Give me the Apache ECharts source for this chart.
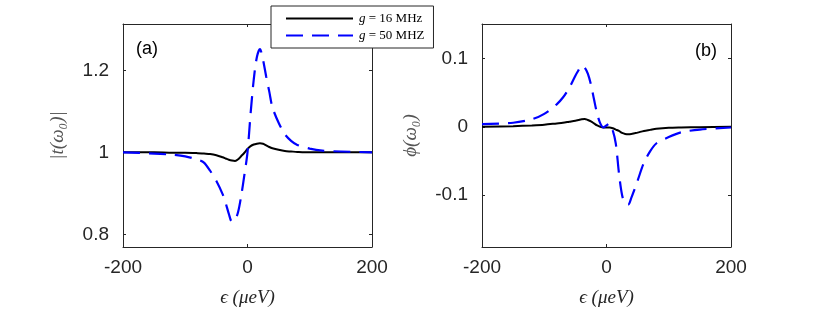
<!DOCTYPE html>
<html>
<head>
<meta charset="utf-8">
<script src="https://cdn.jsdelivr.net/npm/echarts@6/dist/echarts.min.js"></script>
<style>
html,body{margin:0;padding:0;background:#fff;}
#chart{width:817px;height:316px;}
</style>
</head>
<body>
<div id="chart"></div>
<script>
// ---- data ----
const epsA = [-200,-150,-120,-100,-80,-70,-60,-50,-40,-35,-30,-25,-20,-15,-10,-5,0,5,10,15,20,25,30,35,40,50,60,70,80,100,120,150,200];
const t16 = [1.000,1.000,0.999,0.999,0.998,0.997,0.996,0.993,0.988,0.985,0.982,0.980,0.979,0.983,0.991,0.999,1.008,1.015,1.019,1.021,1.022,1.021,1.017,1.013,1.010,1.006,1.003,1.002,1.001,1.000,1.000,1.000,1.000];
const t50 = [1.000,0.997,0.994,0.990,0.982,0.975,0.955,0.930,0.898,0.876,0.850,0.831,0.835,0.855,0.895,0.945,1.000,1.095,1.177,1.232,1.252,1.225,1.185,1.148,1.110,1.072,1.044,1.028,1.018,1.009,1.004,1.002,1.000];

const epsB = [-200,-150,-120,-100,-80,-70,-60,-50,-45,-40,-35,-30,-25,-20,-15,-10,-5,0,5,10,15,20,25,30,35,40,45,50,60,70,80,100,120,150,200];
const phi16 = [0.000,0.001,0.002,0.003,0.005,0.006,0.0075,0.009,0.010,0.011,0.0115,0.010,0.008,0.005,0.002,0.000,-0.001,-0.001,-0.001,-0.002,-0.004,-0.006,-0.009,-0.0105,-0.011,-0.0105,-0.0095,-0.0085,-0.006,-0.0045,-0.003,-0.0015,-0.001,-0.0005,0.000];
const phi50 = [0.004,0.006,0.011,0.019,0.033,0.043,0.057,0.075,0.083,0.090,0.087,0.078,0.062,0.040,0.019,0.005,-0.001,0.002,0.005,-0.005,-0.025,-0.068,-0.100,-0.113,-0.114,-0.104,-0.092,-0.079,-0.053,-0.036,-0.0245,-0.015,-0.008,-0.004,-0.001];

const xTicks = [-200, 0, 200];
const yTicksA = [0.8, 1, 1.2];
const yTicksB = [-0.1, 0, 0.1];
const seriesNames = ['g16', 'g50'];
const legendLabels = {g16: '{i|g} = 16 MHz', g50: '{i|g} = 50 MHZ'};

// ---- chart ----
const AX = '#262626';
const tickFont = {fontFamily: '"Liberation Sans", Arial, sans-serif', fontSize: 19, color: AX};
const zip = (xs, ys) => xs.map((x, i) => [x, ys[i]]);

function xAx(grid, pos, labels, name) {
  return {
    gridIndex: grid, type: 'value', position: pos, min: -200, max: 200,
    axisLine: {show: true, onZero: false, lineStyle: {color: AX, width: 1}},
    axisTick: {show: true, inside: true, length: 3, customValues: xTicks, lineStyle: {color: AX}},
    axisLabel: {show: labels, customValues: xTicks, margin: 11, ...tickFont},
    splitLine: {show: false},
    name: name || '', nameLocation: 'middle', nameGap: 41,
    nameTextStyle: {fontFamily: '"Liberation Serif", "DejaVu Serif", serif', fontStyle: 'italic', fontSize: 19, color: AX}
  };
}
function yAx(grid, pos, labels, min, max, ticks, name, gap) {
  return {
    gridIndex: grid, type: 'value', position: pos, min: min, max: max,
    axisLine: {show: true, onZero: false, lineStyle: {color: AX, width: 1}},
    axisTick: {show: true, inside: true, length: 3, customValues: ticks, lineStyle: {color: AX}},
    axisLabel: {show: labels, customValues: ticks, margin: 14, ...tickFont},
    splitLine: {show: false},
    name: name || '', nameLocation: 'middle', nameRotate: 90, nameGap: gap || 0,
    nameTextStyle: {fontFamily: '"Liberation Serif", "DejaVu Serif", serif', fontStyle: 'italic', fontSize: 19, color: '#555'}
  };
}

const lineBlack = {color: '#000', width: 2, type: 'solid'};
const lineBlue = {color: '#0000ff', width: 2.2, type: [17, 9]};

const option = {
  backgroundColor: '#fff',
  animation: false,
  grid: [
    {left: 123, top: 24, width: 249, height: 223},
    {left: 482, top: 24, width: 249, height: 223}
  ],
  xAxis: [
    xAx(0, 'bottom', true, 'ϵ (μeV)'),
    xAx(0, 'top', false),
    xAx(1, 'bottom', true, 'ϵ (μeV)'),
    xAx(1, 'top', false)
  ],
  yAxis: [
    yAx(0, 'left', true, 0.769, 1.313, yTicksA, '|t(ω₀)|', 56),
    yAx(0, 'right', false, 0.769, 1.313, yTicksA),
    yAx(1, 'left', true, -0.1765, 0.151, yTicksB, 'ϕ(ω₀)', 62),
    yAx(1, 'right', false, -0.1765, 0.151, yTicksB)
  ],
  legend: {
    data: seriesNames,
    orient: 'vertical',
    left: 271, top: 6,
    padding: [6, 9, 6, 14],
    itemGap: 4,
    itemWidth: 67, itemHeight: 12,
    itemStyle: {opacity: 0},
    backgroundColor: '#fff',
    borderColor: AX, borderWidth: 1, borderRadius: 0,
    formatter: n => legendLabels[n],
    textStyle: {
      fontFamily: '"Liberation Serif", "DejaVu Serif", serif', fontSize: 13, color: '#000', padding: [0,0,0,1],
      rich: {i: {fontStyle: 'italic', fontFamily: '"Liberation Serif", "DejaVu Serif", serif', fontSize: 13, color: '#000'}}
    }
  },
  graphic: [
    {type: 'text', left: 136, top: 40, style: {text: '(a)', fontFamily: '"Liberation Sans", Arial, sans-serif', fontSize: 18, fill: '#000'}},
    {type: 'text', left: 695, top: 42, style: {text: '(b)', fontFamily: '"Liberation Sans", Arial, sans-serif', fontSize: 18, fill: '#000'}}
  ],
  series: [
    {name: 'g16', type: 'line', xAxisIndex: 0, yAxisIndex: 0, data: zip(epsA, t16), showSymbol: false, symbol: 'none', smooth: 0.3, lineStyle: lineBlack, itemStyle: {color: '#000'}},
    {name: 'g50', type: 'line', xAxisIndex: 0, yAxisIndex: 0, data: zip(epsA, t50), showSymbol: false, symbol: 'none', smooth: 0.3, lineStyle: lineBlue, itemStyle: {color: '#0000ff'}},
    {name: 'g16', type: 'line', xAxisIndex: 2, yAxisIndex: 2, data: zip(epsB, phi16), showSymbol: false, symbol: 'none', smooth: 0.3, lineStyle: lineBlack, itemStyle: {color: '#000'}},
    {name: 'g50', type: 'line', xAxisIndex: 2, yAxisIndex: 2, data: zip(epsB, phi50), showSymbol: false, symbol: 'none', smooth: 0.3, lineStyle: lineBlue, itemStyle: {color: '#0000ff'}}
  ]
};

const chart = echarts.init(document.getElementById('chart'), null, {renderer: 'canvas'});
chart.setOption(option);
</script>
</body>
</html>
